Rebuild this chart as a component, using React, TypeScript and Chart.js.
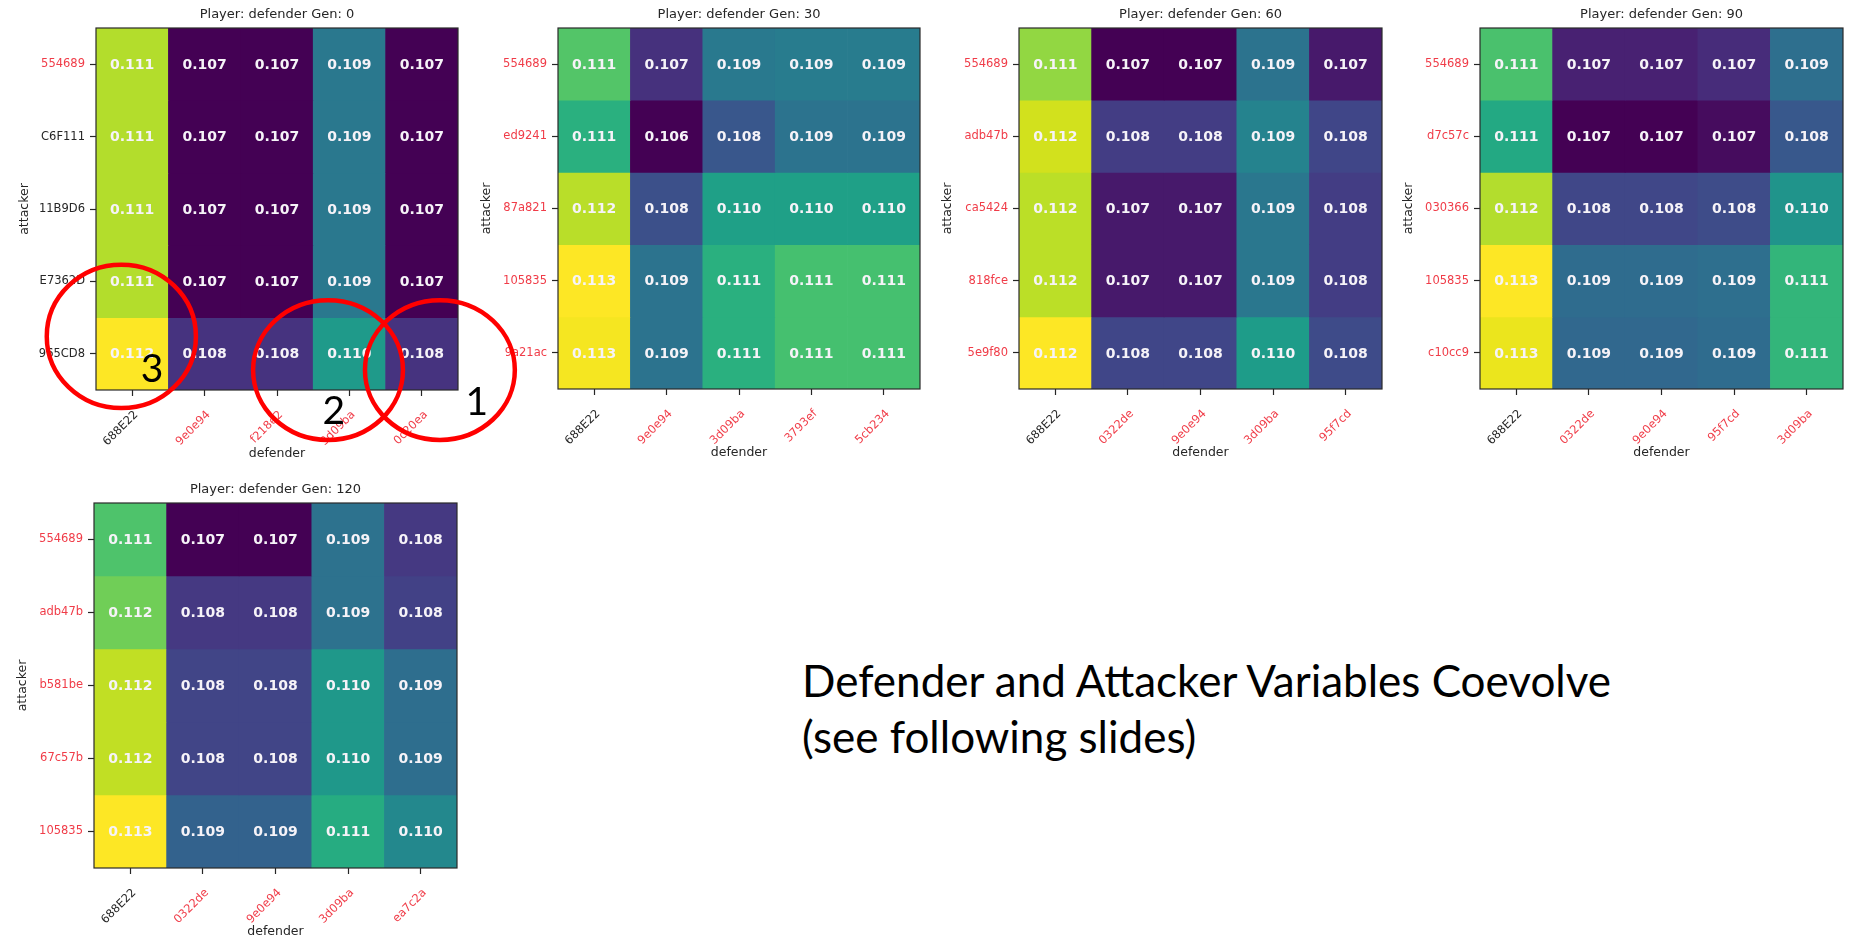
import React, { useEffect, useRef } from "react";
import { Chart, registerables } from "chart.js";
Chart.register(...registerables);

// ---------- data ----------
const originalIds = ["C6F111", "11B9D6", "E7362D", "965CD8", "688E22"];

const gen0Attackers = ["554689", "C6F111", "11B9D6", "E7362D", "965CD8"];
const gen0Defenders = ["688E22", "9e0e94", "f218e2", "3d09ba", "0c20ea"];
const gen0Values = [
  [0.1114, 0.107, 0.107, 0.109, 0.107],
  [0.1114, 0.107, 0.107, 0.109, 0.107],
  [0.1114, 0.107, 0.107, 0.109, 0.107],
  [0.1114, 0.107, 0.107, 0.109, 0.107],
  [0.112, 0.1077, 0.1077, 0.1097, 0.1077],
];

const gen30Attackers = ["554689", "ed9241", "87a821", "105835", "9a21ac"];
const gen30Defenders = ["688E22", "9e0e94", "3d09ba", "3793ef", "5cb234"];
const gen30Values = [
  [0.1112, 0.1068, 0.1088, 0.1089, 0.1089],
  [0.1106, 0.1058, 0.1078, 0.1086, 0.1086],
  [0.1124, 0.1076, 0.11, 0.11, 0.11],
  [0.1132, 0.1086, 0.1106, 0.111, 0.111],
  [0.1131, 0.1086, 0.1106, 0.111, 0.111],
];

const gen60Attackers = ["554689", "adb47b", "ca5424", "818fce", "5e9f80"];
const gen60Defenders = ["688E22", "0322de", "9e0e94", "3d09ba", "95f7cd"];
const gen60Values = [
  [0.1114, 0.1066, 0.1066, 0.1088, 0.107],
  [0.112, 0.1076, 0.1076, 0.1092, 0.1078],
  [0.1118, 0.107, 0.107, 0.1089, 0.1076],
  [0.1118, 0.107, 0.107, 0.1089, 0.1076],
  [0.1124, 0.1078, 0.1078, 0.1098, 0.1079],
];

const gen90Attackers = ["554689", "d7c57c", "030366", "105835", "c10cc9"];
const gen90Defenders = ["688E22", "0322de", "9e0e94", "95f7cd", "3d09ba"];
const gen90Values = [
  [0.1113, 0.1072, 0.1072, 0.1074, 0.109],
  [0.1106, 0.1066, 0.1066, 0.1068, 0.1084],
  [0.1124, 0.108, 0.108, 0.1081, 0.11],
  [0.1132, 0.1089, 0.1089, 0.109, 0.111],
  [0.113, 0.1088, 0.1088, 0.1089, 0.111],
];

const gen120Attackers = ["554689", "adb47b", "b581be", "67c57b", "105835"];
const gen120Defenders = ["688E22", "0322de", "9e0e94", "3d09ba", "ea7c2a"];
const gen120Values = [
  [0.1112, 0.1066, 0.1066, 0.109, 0.1076],
  [0.1116, 0.1076, 0.1076, 0.109, 0.1078],
  [0.1124, 0.1079, 0.1079, 0.11, 0.1089],
  [0.1124, 0.1079, 0.1079, 0.11, 0.1089],
  [0.113, 0.1086, 0.1086, 0.1106, 0.1096],
];

const slideLine1 = "Defender and Attacker Variables Coevolve";
const slideLine2 = "(see following slides)";

// ---------- colour map ----------
const VIRIDIS = [
  "#440154", "#471365", "#482475", "#453781", "#414487", "#3b528b", "#355f8d",
  "#2f6c8e", "#2a788e", "#25838e", "#21918c", "#1e9c89", "#22a884", "#2ab07f",
  "#44bf70", "#5ec962", "#7ad151", "#a5db36", "#bddf26", "#dfe318", "#fde725",
];
function hexToRgb(h: string) {
  return [parseInt(h.slice(1, 3), 16), parseInt(h.slice(3, 5), 16), parseInt(h.slice(5, 7), 16)];
}
function viridis(t: number) {
  t = Math.max(0, Math.min(1, t));
  const p = t * (VIRIDIS.length - 1);
  const i = Math.min(VIRIDIS.length - 2, Math.floor(p));
  const f = p - i;
  const a = hexToRgb(VIRIDIS[i]);
  const b = hexToRgb(VIRIDIS[i + 1]);
  const c = a.map((v, k) => Math.round(v + (b[k] - v) * f));
  return `rgb(${c[0]},${c[1]},${c[2]})`;
}

const FONT = "DejaVu Sans";
const RED = "#f03c48";
const DARK = "#262626";
const labelColor = (id: string) => (originalIds.includes(id) ? DARK : RED);

const YW = 93; // y-axis area width
const TP = 28; // top padding
const XH = 72; // x-axis area height

type Circle = { fx: number; fy: number; rx: number; ry: number; label: string; lx: number; ly: number };
const gen0Marks: Circle[] = [
  { fx: 0.07, fy: 0.852, rx: 0.206, ry: 0.198, label: "3", lx: 0.155, ly: 0.942 },
  { fx: 0.641, fy: 0.945, rx: 0.207, ry: 0.193, label: "2", lx: 0.657, ly: 1.058 },
  { fx: 0.95, fy: 0.945, rx: 0.207, ry: 0.193, label: "1", lx: 1.052, ly: 1.033 },
];

type PanelProps = {
  gen: number;
  attackers: string[];
  defenders: string[];
  values: number[][];
  plotLeft: number;
  plotTop: number;
  plotW: number;
  plotH: number;
  rightPad?: number;
  marks?: Circle[];
};

function Heatmap(props: PanelProps) {
  const ref = useRef<HTMLCanvasElement | null>(null);
  const { gen, attackers, defenders, values, plotLeft, plotTop, plotW, plotH, marks } = props;
  const rightPad = props.rightPad ?? 8;
  const width = YW + plotW + rightPad;
  const height = TP + plotH + XH;

  useEffect(() => {
    if (!ref.current) return;
    const n = attackers.length;
    const flat = values.flat();
    const vmin = Math.min(...flat);
    const vmax = Math.max(...flat);
    const datasets = values.map((row, r) => ({
      label: attackers[r],
      data: row.map(() => [n - 1 - r, n - r]),
      backgroundColor: row.map((v) => viridis((v - vmin) / (vmax - vmin))),
      borderWidth: 0,
      barPercentage: 1,
      categoryPercentage: 1,
    }));

    const cellText = {
      id: "cellText",
      afterDatasetsDraw(chart: any) {
        const ctx = chart.ctx;
        ctx.save();
        ctx.font = `bold 14px "${FONT}"`;
        ctx.fillStyle = "#f6f3f8";
        ctx.textAlign = "center";
        ctx.textBaseline = "middle";
        values.forEach((row, r) => {
          const meta = chart.getDatasetMeta(r);
          row.forEach((v, c) => {
            const el = meta.data[c];
            ctx.fillText(v.toFixed(3), el.x, (el.y + el.base) / 2 + 1);
          });
        });
        const a = chart.chartArea;
        ctx.strokeStyle = "#2a2a2a";
        ctx.lineWidth = 1.2;
        ctx.strokeRect(a.left, a.top, a.right - a.left, a.bottom - a.top);
        ctx.font = `13px "${FONT}"`;
        ctx.fillStyle = DARK;
        ctx.fillText(`Player: defender Gen: ${gen}`, (a.left + a.right) / 2, a.top - 13);
        ctx.restore();
      },
      afterDraw(chart: any) {
        if (!marks) return;
        const ctx = chart.ctx;
        const a = chart.chartArea;
        const w = a.right - a.left;
        const h = a.bottom - a.top;
        ctx.save();
        ctx.strokeStyle = "#ff0000";
        ctx.lineWidth = 4.5;
        marks.forEach((m) => {
          ctx.beginPath();
          ctx.ellipse(a.left + m.fx * w, a.top + m.fy * h, m.rx * w, m.ry * h, 0, 0, Math.PI * 2);
          ctx.stroke();
        });
        ctx.fillStyle = "#000";
        ctx.font = `39px Lato`;
        ctx.textAlign = "center";
        ctx.textBaseline = "middle";
        marks.forEach((m) => {
          ctx.fillText(m.label, a.left + m.lx * w, a.top + m.ly * h);
        });
        ctx.restore();
      },
    };

    const chart = new Chart(ref.current, {
      type: "bar",
      data: { labels: defenders, datasets: datasets as any },
      options: {
        animation: false,
        responsive: false,
        maintainAspectRatio: false,
        layout: { padding: { left: 0, top: TP, right: rightPad, bottom: 0 } },
        plugins: { legend: { display: false }, tooltip: { enabled: false }, title: { display: false } },
        scales: {
          x: {
            type: "category",
            stacked: true,
            offset: true,
            grid: { offset: false, drawOnChartArea: false, drawTicks: true, tickLength: 6, color: DARK, tickWidth: 1.2 },
            border: { display: false },
            ticks: {
              autoSkip: false,
              minRotation: 45,
              maxRotation: 45,
              padding: 12,
              labelOffset: 4,
              font: { family: FONT, size: 11.5 },
              color: (ctx: any) => labelColor(defenders[ctx.index]),
            },
            title: {
              display: true,
              text: "defender",
              color: DARK,
              font: { family: FONT, size: 12.5 },
              padding: { top: 0, bottom: 0.5 },
            },
            afterFit: (s: any) => {
              s.height = XH;
            },
          },
          y: {
            type: "linear",
            min: 0,
            max: n,
            stacked: false,
            afterBuildTicks: (s: any) => {
              s.ticks = attackers.map((_, i) => ({ value: i + 0.5 }));
            },
            grid: { drawOnChartArea: false, drawTicks: true, tickLength: 6, color: DARK, tickWidth: 1.2 },
            border: { display: false },
            ticks: {
              autoSkip: false,
              padding: 5,
              font: { family: FONT, size: 11.5 },
              callback: (_v: any, i: number) => attackers[n - 1 - i],
              color: (ctx: any) => labelColor(attackers[n - 1 - ctx.index]),
            },
            title: {
              display: true,
              text: "attacker",
              color: DARK,
              font: { family: FONT, size: 12.5 },
              padding: { top: 14.5, bottom: 0 },
            },
            afterFit: (s: any) => {
              s.width = YW;
            },
          },
        },
      } as any,
      plugins: [cellText],
    });
    return () => chart.destroy();
  }, []);

  return (
    <canvas
      ref={ref}
      width={width}
      height={height}
      style={{ position: "absolute", left: plotLeft - YW, top: plotTop - TP, width, height }}
    />
  );
}

export default function App() {
  return (
    <div
      style={{
        position: "absolute",
        left: 0,
        top: 0,
        width: 1851,
        height: 938,
        overflow: "hidden",
        background: "#ffffff",
      }}
    >
      <Heatmap gen={30} attackers={gen30Attackers} defenders={gen30Defenders} values={gen30Values} plotLeft={558} plotTop={28} plotW={362} plotH={361} />
      <Heatmap gen={60} attackers={gen60Attackers} defenders={gen60Defenders} values={gen60Values} plotLeft={1019} plotTop={28} plotW={363} plotH={361} />
      <Heatmap gen={90} attackers={gen90Attackers} defenders={gen90Defenders} values={gen90Values} plotLeft={1480} plotTop={28} plotW={363} plotH={361} />
      <Heatmap gen={120} attackers={gen120Attackers} defenders={gen120Defenders} values={gen120Values} plotLeft={94} plotTop={503} plotW={363} plotH={365} />
      <Heatmap gen={0} attackers={gen0Attackers} defenders={gen0Defenders} values={gen0Values} plotLeft={96} plotTop={28} plotW={362} plotH={362} rightPad={66} marks={gen0Marks} />
      <div
        style={{
          position: "absolute",
          left: 802,
          top: 652,
          fontFamily: "Lato",
          fontSize: 44,
          lineHeight: "56px",
          color: "#000",
          whiteSpace: "nowrap",
        }}
      >
        {slideLine1}
        <br />
        {slideLine2}
      </div>
    </div>
  );
}
